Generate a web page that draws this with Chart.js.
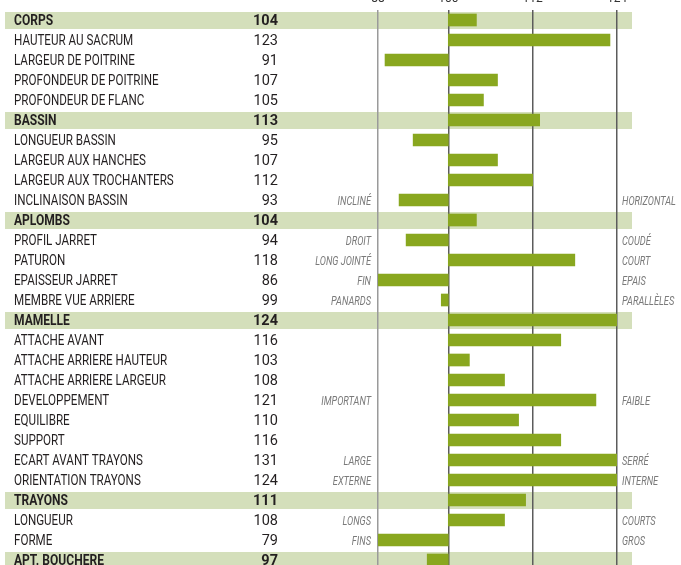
<!DOCTYPE html>
<html>
<head>
<meta charset="utf-8">
<script src="https://cdn.jsdelivr.net/npm/chart.js@4"></script>
<style>
  html, body { margin: 0; padding: 0; background: #fff; overflow: hidden; width: 681px; height: 565px; }
  #wrap { position: relative; width: 681px; height: 565px; overflow: hidden; }
  #chart { position: absolute; left: 0; top: -10px; }
</style>
</head>
<body>
<div id="wrap"><canvas id="chart" width="681" height="590"></canvas></div>
<script>
// --- DONNEES ---
const categories = [
    'CORPS', 'HAUTEUR AU SACRUM', 'LARGEUR DE POITRINE', 'PROFONDEUR DE POITRINE', 'PROFONDEUR DE FLANC',
    'BASSIN', 'LONGUEUR BASSIN', 'LARGEUR AUX HANCHES', 'LARGEUR AUX TROCHANTERS', 'INCLINAISON BASSIN',
    'APLOMBS', 'PROFIL JARRET', 'PATURON', 'EPAISSEUR JARRET', 'MEMBRE VUE ARRIERE',
    'MAMELLE', 'ATTACHE AVANT', 'ATTACHE ARRIERE HAUTEUR', 'ATTACHE ARRIERE LARGEUR', 'DEVELOPPEMENT',
    'EQUILIBRE', 'SUPPORT', 'ECART AVANT TRAYONS', 'ORIENTATION TRAYONS',
    'TRAYONS', 'LONGUEUR', 'FORME', 'APT. BOUCHERE'
];
const scores = [
    104, 123, 91, 107, 105,
    113, 95, 107, 112, 93,
    104, 94, 118, 86, 99,
    124, 116, 103, 108, 121,
    110, 116, 131, 124,
    111, 108, 79, 97
];
const headerRows = ['CORPS', 'BASSIN', 'APLOMBS', 'MAMELLE', 'TRAYONS', 'APT. BOUCHERE'];
// libellés des extrêmes (gauche / droite)
const lowLabels = [
    '', '', '', '', '',
    '', '', '', '', 'INCLINÉ',
    '', 'DROIT', 'LONG JOINTÉ', 'FIN', 'PANARDS',
    '', '', '', '', 'IMPORTANT',
    '', '', 'LARGE', 'EXTERNE',
    '', 'LONGS', 'FINS', ''
];
const highLabels = [
    '', '', '', '', '',
    '', '', '', '', 'HORIZONTAL',
    '', 'COUDÉ', 'COURT', 'EPAIS', 'PARALLÈLES',
    '', '', '', '', 'FAIBLE',
    '', '', 'SERRÉ', 'INTERNE',
    '', 'COURTS', 'GROS', ''
];
const baseValue = 100;
const axisMin = 90;
const axisMax = 124;
const tickValues = [90, 100, 112, 124];
const tickLabels = ['88', '100', '112', '124'];

const FONT = "Roboto, 'DejaVu Sans Condensed', sans-serif";
const BAR_COLOR = '#89a71f';
const BAND_COLOR = '#d4dfbb';
const TEXT_COLOR = '#231f20';

// texte "condensé" : on écrase horizontalement
function drawText(ctx, txt, x, y, align, sx) {
    ctx.save();
    ctx.translate(x, y);
    ctx.scale(sx, 1);
    ctx.textAlign = align;
    ctx.fillText(txt, 0, 0);
    ctx.restore();
}

// --- BANDES DES RUBRIQUES (derrière la grille) ---
const bandPlugin = {
    id: 'bands',
    beforeDraw(chart) {
        const ctx = chart.ctx;
        const y = chart.scales.y;
        ctx.save();
        ctx.fillStyle = BAND_COLOR;
        categories.forEach((c, i) => {
            if (!headerRows.includes(c)) return;
            const py = y.getPixelForValue(i);
            ctx.fillRect(5, py - 8, 627, 17);
        });
        ctx.restore();
    }
};

// --- TEXTES (libellés, notes, extrêmes) ---
const textPlugin = {
    id: 'texts',
    afterDraw(chart) {
        const ctx = chart.ctx;
        const y = chart.scales.y;
        ctx.save();
        ctx.textBaseline = 'middle';
        categories.forEach((c, i) => {
            const py = y.getPixelForValue(i) + 1.5;
            const bold = headerRows.includes(c);
            ctx.fillStyle = TEXT_COLOR;
            ctx.font = (bold ? 'bold ' : '') + '14px ' + FONT;
            drawText(ctx, c, 14, py, 'left', bold ? 0.86 : 0.83);
            ctx.font = (bold ? 'bold ' : '') + '14.5px ' + FONT;
            drawText(ctx, String(scores[i]), 278, py, 'right', 1);
            ctx.fillStyle = '#7a7a7a';
            ctx.font = 'italic 12.5px ' + FONT;
            if (lowLabels[i]) drawText(ctx, lowLabels[i], 371, py, 'right', 0.74);
            if (highLabels[i]) drawText(ctx, highLabels[i], 622, py, 'left', 0.74);
        });
        ctx.restore();
    }
};

const ctx = document.getElementById('chart').getContext('2d');
new Chart(ctx, {
    type: 'bar',
    data: {
        labels: categories,
        datasets: [{
            data: scores.map(v => [baseValue, v]),
            backgroundColor: BAR_COLOR,
            borderWidth: 0,
            borderSkipped: false,
            barThickness: 12
        }]
    },
    options: {
        indexAxis: 'y',
        responsive: false,
        animation: false,
        devicePixelRatio: 1,
        layout: { padding: { left: 378, right: 64, top: 0, bottom: 10 } },
        plugins: {
            legend: { display: false },
            tooltip: { enabled: false }
        },
        scales: {
            x: {
                position: 'top',
                min: axisMin,
                max: axisMax,
                afterBuildTicks: scale => { scale.ticks = tickValues.map(v => ({ value: v })); },
                afterFit: scale => { scale.height = 20; },
                border: { display: false },
                grid: {
                    drawTicks: false,
                    lineWidth: 1.5,
                    color: c => (c.tick && c.tick.value === axisMin) ? '#9a9a9a' : '#5c5c5c'
                },
                ticks: {
                    padding: 4,
                    color: '#333',
                    font: { family: FONT, size: 12 },
                    maxRotation: 0,
                    autoSkip: false,
                    callback: (value, index) => tickLabels[index]
                }
            },
            y: {
                display: false,
                grid: { display: false }
            }
        }
    },
    plugins: [bandPlugin, textPlugin]
});
</script>
</body>
</html>
